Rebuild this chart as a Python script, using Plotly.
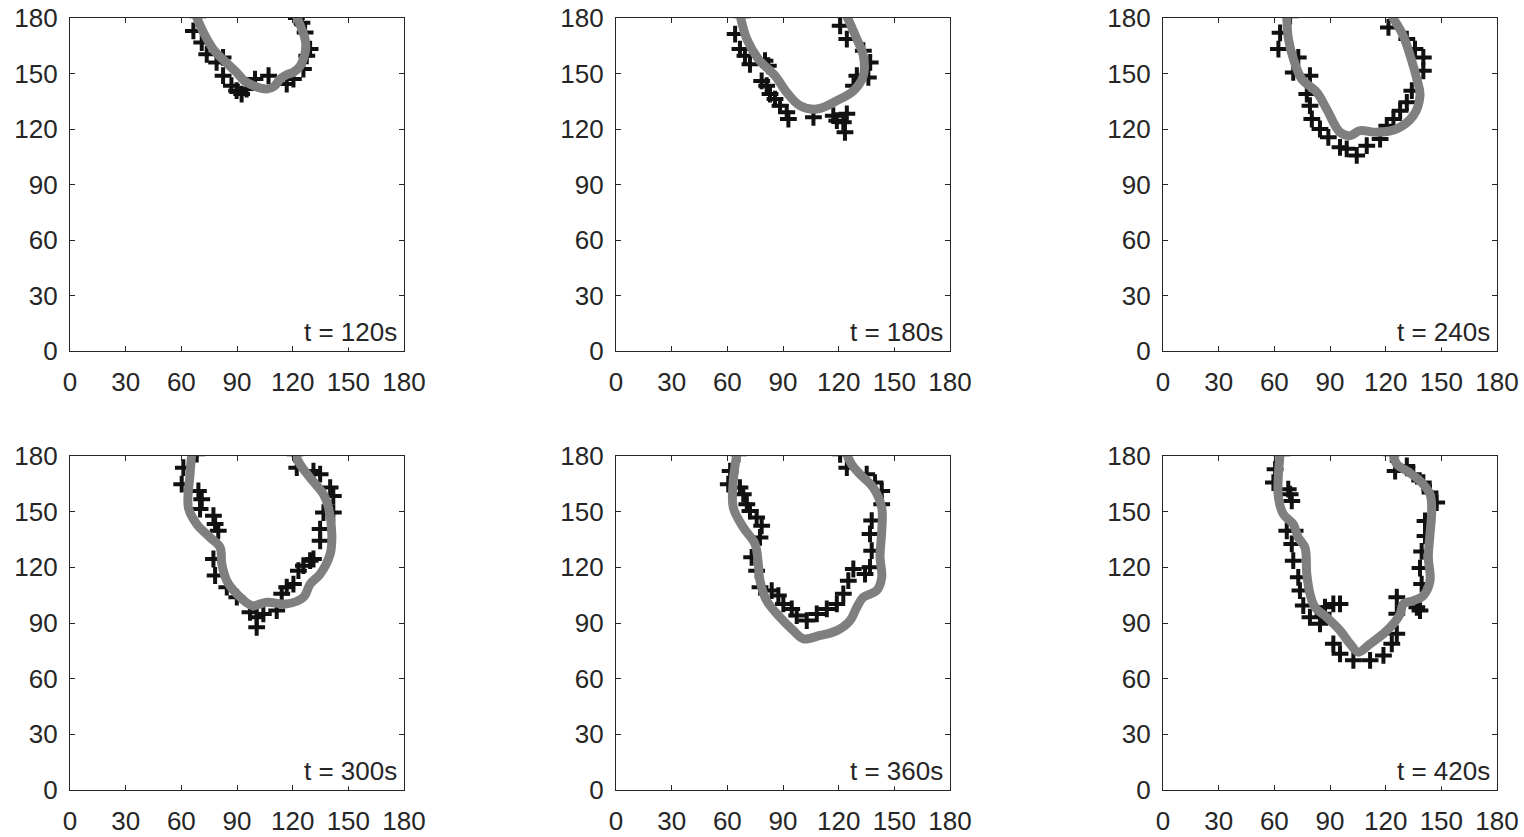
import plotly.graph_objects as go

labels = ["t = 120s", "t = 180s", "t = 240s", "t = 300s", "t = 360s", "t = 420s"]
ticks = [0, 30, 60, 90, 120, 150, 180]

# ---- panel 1 (t=120s)
line1_x = [68, 72, 77.3, 83, 89.8, 94, 98.8, 103, 106, 110, 113.2, 117, 120.3, 124, 125.7, 127, 126.7, 124.5, 122]
line1_y = [181, 172, 163, 157, 150.6, 146, 143.4, 142, 141.6, 143, 147, 149.5, 150.6, 154, 157.8, 163, 168.6, 175, 181]
pts1_x = [69, 66.5, 71, 73.7, 79, 82.5, 82.5, 87, 89.8, 92.5, 95.2, 99.7, 107, 116.8, 120.4, 125.8, 127.6, 129.4, 126.7, 125, 122]
pts1_y = [181, 173, 166.7, 160.4, 156, 158.7, 148.8, 143.4, 140.7, 138.9, 141.6, 147, 148.8, 144.3, 147, 152.4, 159.6, 163.2, 172.2, 177.5, 180]

# ---- panel 2 (t=180s)
line2_x = [67, 70.5, 76.7, 85.7, 92, 99.2, 108.2, 119, 128, 133.3, 133.3, 129.8, 124.4]
line2_y = [181, 168.6, 157.8, 148.8, 139.8, 132.6, 130.8, 135.3, 140.7, 148.8, 159.6, 168.6, 181]
pts2_x = [68, 64.2, 66.8, 69.5, 72.2, 80.3, 82.1, 78.5, 81.2, 83, 85.7, 88.4, 92, 92.9, 106.4, 117.1, 119, 122.5, 123.4, 124.4, 128, 129.8, 136, 137, 133.3, 124.4, 120.8]
pts2_y = [181, 171.3, 163.2, 159.6, 155, 156.9, 154.2, 146, 143.4, 138.9, 136.2, 132.6, 129, 125.4, 126.3, 127.2, 124.5, 123.6, 118.2, 128.2, 143.4, 148.8, 147.9, 156, 162.3, 168.6, 175.8]

# ---- panel 3 (t=240s)
line3_x = [66.7, 67.6, 70.3, 74.8, 82.9, 88.2, 95.4, 100.8, 106.2, 115.2, 126, 134.9, 138.5, 136.8, 133.2, 129.5, 123.3]
line3_y = [181, 168.6, 157.8, 147, 139.8, 130.8, 118.2, 116.4, 119.1, 118.2, 120.1, 127.2, 138, 147, 159.6, 170.4, 181]
pts3_x = [68.5, 63.1, 62.2, 72.9, 70.2, 79.2, 77.5, 79.2, 80.2, 84.6, 89.1, 95.4, 99, 104.4, 109.8, 117, 120.6, 124.2, 127.8, 131.4, 134.1, 140.3, 140.3, 135.8, 131.4, 121.5]
pts3_y = [181, 172, 163.2, 158.7, 150.6, 148.8, 138.9, 132.6, 125.4, 120, 115.5, 110.1, 109.3, 105.7, 111, 114.6, 121.8, 125.4, 129.9, 134.4, 140.7, 151.5, 158.7, 163.2, 168.6, 174.9]

# ---- panel 4 (t=300s)
line4_x = [65.6, 64.7, 63.8, 68.3, 75.5, 80.9, 81.8, 84.5, 89.9, 98, 106, 116.8, 125.8, 129.4, 134.8, 140.2, 141.1, 139.3, 136.6, 129.4, 124, 121.3]
line4_y = [181, 170.2, 152.2, 143.3, 136.1, 130.7, 121.8, 112.8, 105.7, 99.4, 101.2, 100.3, 103.9, 111, 116.4, 127.2, 137.9, 152.2, 159.4, 168.3, 175.5, 181]
pts4_x = [68.3, 61.1, 60.2, 69.2, 71, 70.1, 77.3, 78.2, 79.9, 77.3, 78.2, 84.5, 89.9, 97, 100.6, 100.6, 104.2, 111.4, 114.1, 116.8, 120.4, 123.1, 125.8, 129.4, 131.2, 134.8, 134.8, 136.6, 141.9, 141.9, 140.2, 134.8, 131.2, 122.2, 121.3]
pts4_y = [181, 173.7, 164.8, 161.2, 156.7, 151.4, 147.8, 143.3, 139.7, 124.5, 115.6, 109.3, 103.9, 95.8, 93.1, 87.7, 94.9, 96.7, 105.7, 109.3, 111, 118.2, 120.9, 123.6, 124.5, 134.3, 140.6, 149.5, 149.5, 158.5, 163, 170.2, 171.9, 173.7, 181]

# ---- panel 5 (t=360s)
line5_x = [65.1, 63.2, 63.2, 68.6, 74.9, 76.7, 77.6, 81.2, 88.4, 95.6, 101, 110, 119, 126.1, 129.8, 133.3, 140.5, 143.2, 142.3, 143.2, 143.2, 138.7, 131.5, 127, 124.4]
line5_y = [181, 166.6, 152.2, 141.5, 132.6, 121.8, 112.8, 102.1, 93.1, 85.9, 81.5, 83.3, 85.9, 91.3, 98.5, 103.9, 107.5, 114.6, 125.4, 139.7, 152.2, 162.9, 170.2, 175.5, 181]
pts5_x = [66, 61.5, 60.5, 66.8, 68.6, 70.5, 72.2, 75.8, 78.5, 77.6, 73.1, 75.8, 77.6, 83.9, 87.5, 90.2, 94.7, 97.4, 102.8, 108.2, 113.6, 119, 122.5, 125.2, 127.9, 134.2, 136.9, 137.8, 136.9, 137.8, 143.2, 143.2, 139.6, 135.1, 124.4, 120.8]
pts5_y = [181, 171.9, 164.8, 163, 159.4, 154, 150.4, 146.9, 142.4, 136.1, 125.4, 118.2, 109.3, 107.5, 104.8, 100.3, 97.6, 94, 91.3, 94.9, 97.6, 100.3, 105.7, 112.8, 119.1, 116.4, 120, 129, 138, 145.2, 154, 161.2, 165.7, 170.2, 173.7, 180.9]

# ---- panel 6 (t=420s)
line6_x = [63.1, 62.2, 62.2, 64.9, 70.2, 72.9, 76.5, 77.5, 79.2, 81.9, 88.2, 95.4, 100.8, 105.3, 111.6, 118.8, 124.2, 127.8, 129.6, 135, 140.3, 143.9, 143, 143.9, 144.8, 143.9, 138.5, 131.4, 126, 124.2]
line6_y = [181, 170.2, 157.6, 148.6, 143.3, 136.1, 130.7, 116.4, 105.7, 98.5, 93.1, 86, 78.8, 74.3, 78.8, 84.2, 89.6, 94.9, 100.3, 102.1, 104.8, 112.8, 125.4, 137.9, 150.4, 159.4, 166.6, 172, 175.5, 181]
pts6_x = [64, 60.4, 59.5, 67.5, 68.5, 69.4, 66.7, 71.2, 69.4, 70.2, 72.9, 73.8, 75.6, 79.2, 87.3, 91.8, 95.4, 86.3, 84.6, 91.8, 95.4, 102.6, 111.6, 118.8, 123.3, 126, 126, 126, 136.8, 138.5, 139.4, 138.5, 139.4, 141.2, 141.2, 147.5, 143.9, 140.3, 134.9, 131.4, 125.1, 123.3]
pts6_y = [181, 172.8, 165.7, 162.1, 159.4, 155.8, 139.7, 139.7, 132.6, 123.6, 114.6, 107.5, 99.4, 93.1, 98.5, 100.3, 100.3, 95, 89.6, 78.8, 73.4, 69.9, 69.9, 72.5, 78.8, 84.2, 103.9, 95, 98.5, 96.7, 111, 119.6, 128.6, 136.9, 145, 154.9, 160.3, 165.7, 170.2, 174.6, 171.9, 180.9]

lines = [(line1_x, line1_y), (line2_x, line2_y), (line3_x, line3_y),
         (line4_x, line4_y), (line5_x, line5_y), (line6_x, line6_y)]
pts = [(pts1_x, pts1_y), (pts2_x, pts2_y), (pts3_x, pts3_y),
       (pts4_x, pts4_y), (pts5_x, pts5_y), (pts6_x, pts6_y)]

W, H = 1524, 837
xdoms = [(70 / W, 404 / W), (616 / W, 950 / W), (1163 / W, 1497 / W)]
ydoms = [(1 - 351 / H, 1 - 18 / H), (1 - 790 / H, 1 - 456 / H)]

fig = go.Figure()
font = dict(family="Liberation Sans, Arial, sans-serif", size=26, color="#262626")

for i in range(6):
    r, c = divmod(i, 3)
    n = i + 1
    xa = "x" if n == 1 else f"x{n}"
    ya = "y" if n == 1 else f"y{n}"
    fig.add_trace(go.Scatter(
        x=pts[i][0], y=pts[i][1], mode="markers", xaxis=xa, yaxis=ya,
        marker=dict(symbol="cross-thin", size=12, line=dict(width=4, color="#111111")),
        showlegend=False, cliponaxis=True))
    fig.add_trace(go.Scatter(
        x=lines[i][0], y=lines[i][1], mode="lines", xaxis=xa, yaxis=ya,
        line=dict(color="#7f7f7f", width=9, shape="spline", smoothing=1.0),
        showlegend=False))
    axcommon = dict(range=[0, 180], tickvals=ticks, ticks="inside", ticklen=5,
                    tickcolor="#262626", showline=True, linecolor="#262626",
                    linewidth=1.3, mirror="ticks", showgrid=False, zeroline=False,
                    tickfont=font, automargin=False)
    fig.layout[f"xaxis{'' if n == 1 else n}"] = dict(
        domain=xdoms[c], anchor=ya, ticklabelstandoff=8, **axcommon)
    fig.layout[f"yaxis{'' if n == 1 else n}"] = dict(
        domain=ydoms[r], anchor=xa, ticklabelstandoff=6, **axcommon)
    fig.add_annotation(x=176.5, y=1.5, xref=xa, yref=ya, text=labels[i],
                       xanchor="right", yanchor="bottom", showarrow=False,
                       font=font, bgcolor="white", borderpad=0)

fig.update_layout(width=W, height=H, margin=dict(l=0, r=0, t=0, b=0),
                  plot_bgcolor="white", paper_bgcolor="white")
fig.write_html("out.html")
